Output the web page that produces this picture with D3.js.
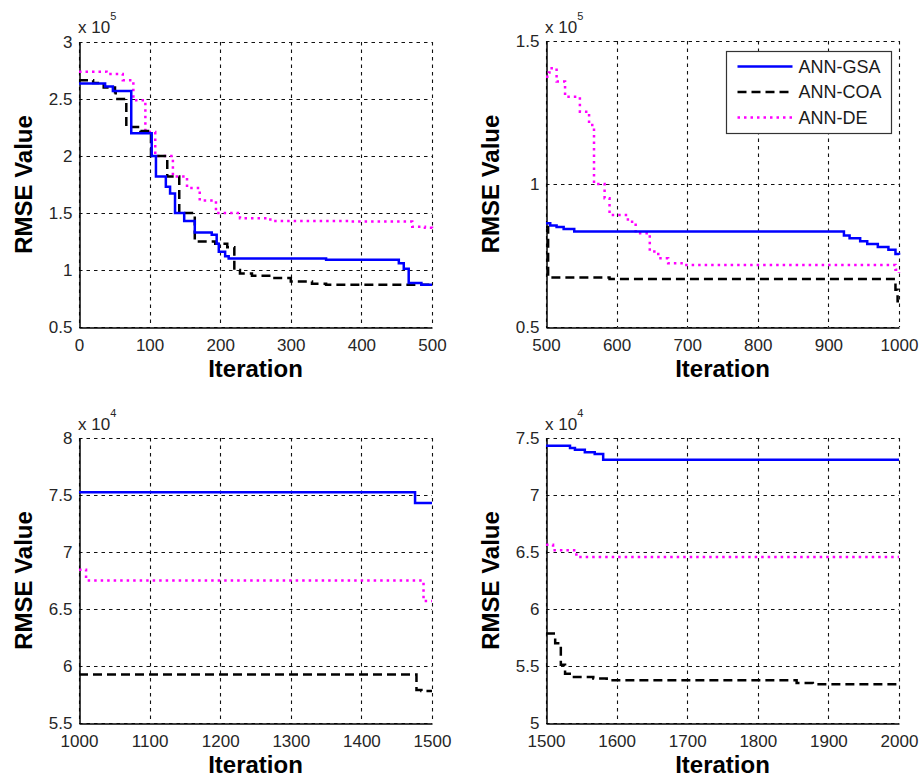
<!DOCTYPE html>
<html>
<head>
<meta charset="utf-8">
<script src="https://cdn.jsdelivr.net/npm/d3@7"></script>
<style>
  body { margin: 0; background: #fff; }
  svg { display: block; }
</style>
</head>
<body>
<svg id="chart" width="919" height="778"></svg>
<script>
// ---------- DATA ----------
const seriesNames = ["ANN-GSA", "ANN-COA", "ANN-DE"];

// Panel 1 (iterations 0-500)
const gsa1 = [[0,263500],[37,261000],[48,257000],[74,220000],[103,200000],[109,182000],[123,173000],[129,167000],[136,150000],[149,143000],[164,133000],[188,131000],[195,123000],[198,116000],[207,112000],[212,110000],[350,109000],[453,106000],[460,101000],[467,88500],[485,87000],[500,87000]];
const coa1 = [[0,266500],[20,264000],[35,260000],[51,256000],[52,250000],[67,225500],[87,222000],[102,200000],[125,182000],[142,150000],[164,125000],[193,123000],[210,120000],[220,100000],[228,97000],[245,95000],[275,93000],[300,90000],[330,88000],[350,87000],[500,87000]];
const de1  = [[0,274000],[39,272000],[62,266500],[77,249000],[94,221000],[108,200000],[133,182000],[153,172000],[171,161000],[194,150000],[228,145500],[271,143000],[384,142500],[472,138000],[490,137000],[500,136000]];

// Panel 2 (iterations 500-1000)
const gsa2 = [[500,86300],[506,85500],[515,85000],[525,84300],[540,83400],[916,83400],[922,82000],[930,81000],[945,80000],[955,79000],[970,78000],[985,77000],[995,75500],[1000,75300]];
const coa2 = [[500,85000],[503,67300],[590,66800],[992,66800],[995,63000],[998,59000],[1000,59000]];
const de2  = [[500,137500],[504,139000],[508,140500],[515,135800],[527,130500],[548,125300],[561,120600],[568,100000],[583,95000],[590,89200],[616,86800],[627,82800],[647,76400],[659,74000],[673,72300],[692,71700],[990,71700],[995,70000],[1000,69000]];

// Panel 3 (iterations 1000-1500)
const gsa3 = [[1000,75250],[1476,74300],[1500,74300]];
const coa3 = [[1000,59250],[1478,57900],[1485,57800],[1500,57800]];
const de3  = [[1000,68450],[1010,67500],[1488,65700],[1500,65700]];

// Panel 4 (iterations 1500-2000)
const gsa4 = [[1500,74330],[1534,74120],[1541,73980],[1555,73740],[1569,73600],[1581,73100],[2000,73100]];
const coa4 = [[1500,57840],[1513,57000],[1521,55100],[1527,54330],[1536,54040],[1567,53900],[1586,53750],[1855,53500],[1878,53400],[2000,53400]];
const de4  = [[1500,65640],[1510,65150],[1543,64560],[2000,64560]];

// Axis ticks
const xTicks1 = [0,100,200,300,400,500];
const xTicks2 = [500,600,700,800,900,1000];
const xTicks3 = [1000,1100,1200,1300,1400,1500];
const xTicks4 = [1500,1600,1700,1800,1900,2000];
const yTicks1 = [50000,100000,150000,200000,250000,300000];
const yTicks2 = [50000,100000,150000];
const yTicks3 = [55000,60000,65000,70000,75000,80000];
const yTicks4 = [50000,55000,60000,65000,70000,75000];
const exponents = [5,5,4,4];

// ---------- DRAW ----------
const svg = d3.select("#chart");
const FONT = "Arial, 'Liberation Sans', sans-serif";
const crisp = v => Math.round(v) + 0.5;

const styles = [
  { color: "#0000ff", dash: null },
  { color: "#000000", dash: "9,5" },
  { color: "#ff00ff", dash: "2.5,4" }
];

const panels = [
  { x0:79,  x1:432, y0:42,  y1:327, xd:[0,500],     yd:[50000,300000], xt:xTicks1, yt:yTicks1, exp:exponents[0], series:[gsa1,coa1,de1], ylabX:32,  multBase:33,  xlabBase:377, legend:false },
  { x0:546, x1:899, y0:41,  y1:327, xd:[500,1000],  yd:[50000,150000], xt:xTicks2, yt:yTicks2, exp:exponents[1], series:[gsa2,coa2,de2], ylabX:499, multBase:33,  xlabBase:377, legend:true },
  { x0:79,  x1:432, y0:438, y1:723, xd:[1000,1500], yd:[55000,80000],  xt:xTicks3, yt:yTicks3, exp:exponents[2], series:[gsa3,coa3,de3], ylabX:32,  multBase:430, xlabBase:773, legend:false },
  { x0:546, x1:899, y0:438, y1:723, xd:[1500,2000], yd:[50000,75000],  xt:xTicks4, yt:yTicks4, exp:exponents[3], series:[gsa4,coa4,de4], ylabX:499, multBase:430, xlabBase:773, legend:false }
];

panels.forEach((p, i) => {
  const g = svg.append("g");
  const x = d3.scaleLinear().domain(p.xd).range([p.x0, p.x1]);
  const y = d3.scaleLinear().domain(p.yd).range([p.y1, p.y0]);
  const scale = Math.pow(10, p.exp);

  // grid
  g.append("g").selectAll("line").data(p.xt).join("line")
    .attr("x1", d => crisp(x(d))).attr("x2", d => crisp(x(d)))
    .attr("y1", p.y0).attr("y2", p.y1)
    .attr("stroke", "#111").attr("stroke-width", 1.1).attr("stroke-dasharray", "3.5,4");
  g.append("g").selectAll("line").data(p.yt).join("line")
    .attr("x1", p.x0).attr("x2", p.x1)
    .attr("y1", d => crisp(y(d))).attr("y2", d => crisp(y(d)))
    .attr("stroke", "#111").attr("stroke-width", 1.1).attr("stroke-dasharray", "3.5,4");

  // axes via d3 axis generators
  const xAxis = d3.axisBottom(x).tickValues(p.xt).tickSize(0).tickPadding(11).tickFormat(d3.format("d"));
  const yAxis = d3.axisLeft(y).tickValues(p.yt).tickSize(0).tickPadding(7).tickFormat(d => d3.format("~g")(d / scale));
  const gx = g.append("g").attr("transform", `translate(0,${crisp(p.y1)})`).call(xAxis);
  const gy = g.append("g").attr("transform", `translate(${crisp(p.x0)},0)`).call(yAxis);
  [gx, gy].forEach(a => {
    a.selectAll("path.domain").attr("stroke", "#000").attr("stroke-width", 1.5);
    a.selectAll("text").attr("font-family", FONT).attr("font-size", 17).attr("fill", "#262626");
  });
  gx.selectAll("text").attr("dy", "0.71em");

  // clip
  const clipId = "clip" + i;
  svg.append("clipPath").attr("id", clipId).append("rect")
    .attr("x", p.x0).attr("y", p.y0 - 2).attr("width", p.x1 - p.x0 + 2).attr("height", p.y1 - p.y0 + 2);

  const line = d3.line().x(d => x(d[0])).y(d => y(d[1])).curve(d3.curveStepAfter);
  const order = [2, 1, 0];
  order.forEach(k => {
    g.append("path").datum(p.series[k])
      .attr("clip-path", `url(#${clipId})`)
      .attr("d", line)
      .attr("fill", "none")
      .attr("stroke", styles[k].color)
      .attr("stroke-width", 2.5)
      .attr("stroke-dasharray", styles[k].dash);
  });

  // multiplier label
  const mult = g.append("text").attr("x", p.x0 - 1).attr("y", p.multBase)
    .attr("font-family", FONT).attr("font-size", 17).attr("fill", "#262626");
  mult.append("tspan").text("x 10");
  mult.append("tspan").attr("font-size", 11).attr("dy", -13).text(p.exp);

  // axis titles
  g.append("text").attr("x", (p.x0 + p.x1) / 2).attr("y", p.xlabBase)
    .attr("text-anchor", "middle").attr("font-family", FONT).attr("font-weight", "bold")
    .attr("font-size", 24).attr("fill", "#000").text("Iteration");
  g.append("text").attr("transform", `translate(${p.ylabX},${(p.y0 + p.y1) / 2}) rotate(-90)`)
    .attr("text-anchor", "middle").attr("font-family", FONT).attr("font-weight", "bold")
    .attr("font-size", 24).attr("fill", "#000").text("RMSE Value");

  // legend
  if (p.legend) {
    const lg = g.append("g");
    const lx = 726.5, ly = 51.5, lw = 165, lh = 82;
    lg.append("rect").attr("x", lx).attr("y", ly).attr("width", lw).attr("height", lh)
      .attr("fill", "#fff").attr("stroke", "#333").attr("stroke-width", 1.2);
    seriesNames.forEach((name, k) => {
      const yy = ly + 15 + k * 25.5;
      lg.append("line").attr("x1", lx + 11).attr("x2", lx + 66).attr("y1", yy).attr("y2", yy)
        .attr("stroke", styles[k].color).attr("stroke-width", 2.5).attr("stroke-dasharray", styles[k].dash);
      lg.append("text").attr("x", lx + 72).attr("y", yy).attr("dy", "0.35em")
        .attr("font-family", FONT).attr("font-size", 18).attr("fill", "#1a1a1a").text(name);
    });
  }
});
</script>
</body>
</html>
